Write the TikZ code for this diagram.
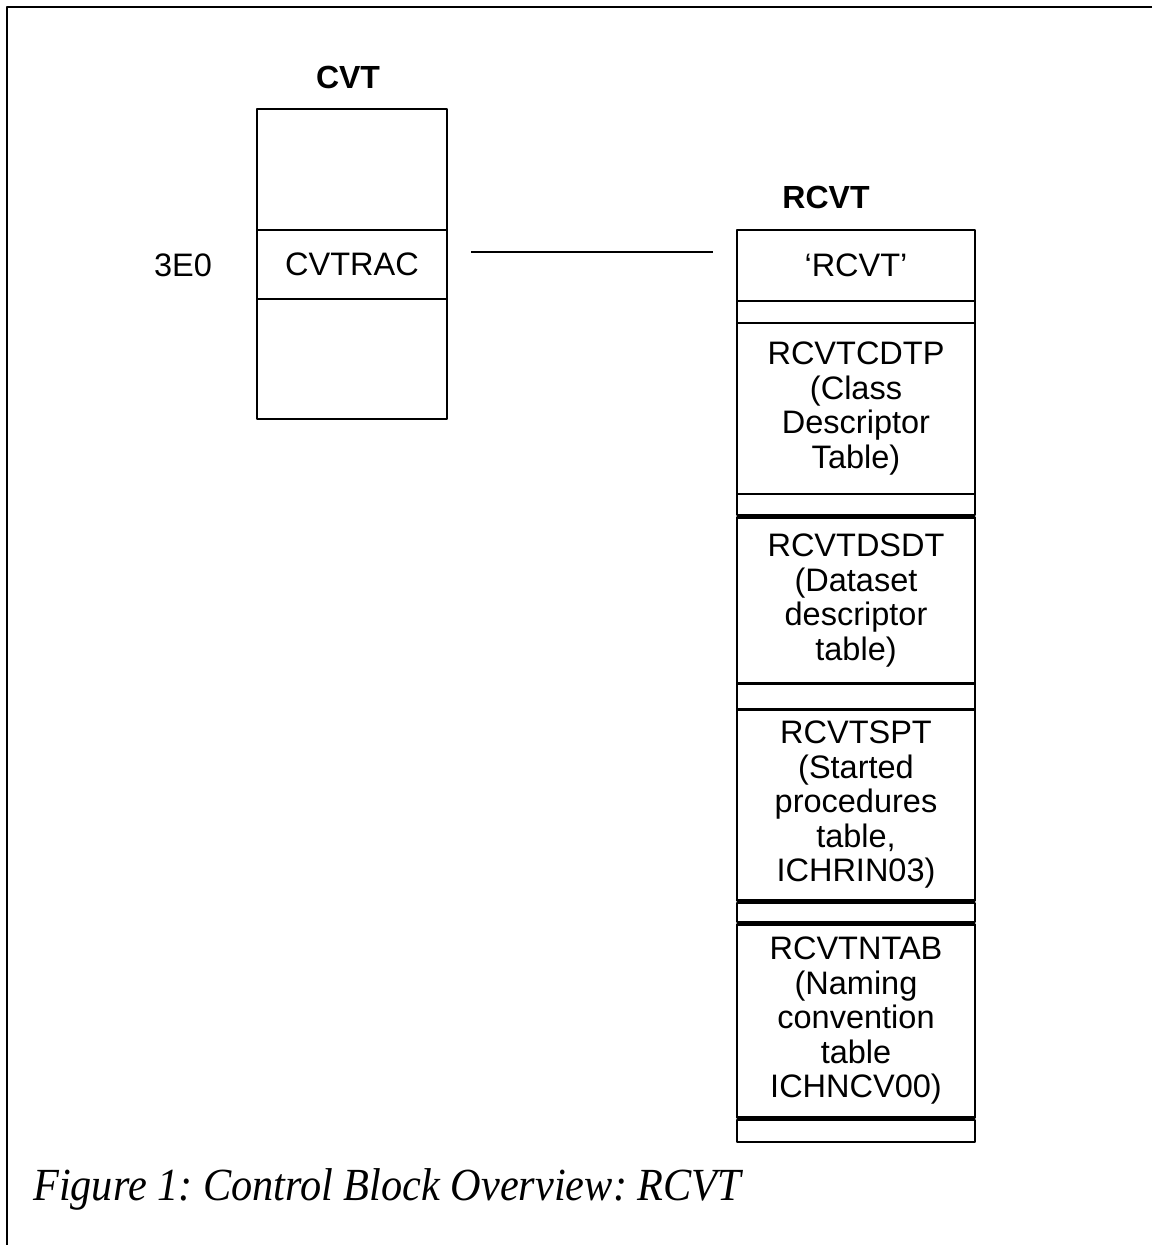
\documentclass[tikz,border=0pt]{standalone}
\usepackage{fontspec}
\setmainfont{Liberation Serif}
\setsansfont{Liberation Sans}
\usetikzlibrary{positioning}
\frenchspacing
\newcommand\isifont{\sffamily\fontsize{32.5}{34.5}\selectfont}
\newcommand\judulfont{\sffamily\bfseries\fontsize{32}{34.5}\selectfont}
\newcommand\captfont{\rmfamily\itshape\fontsize{46}{50}\selectfont}
\begin{document}
\begin{tikzpicture}[x=1pt, y=-1pt, line join=round]
    % Gaya sel blok kontrol
    \tikzset{
      sel/.style={draw, line width=2.4pt, outer sep=0pt, inner sep=0pt, align=center, font=\isifont},
      cvtsel/.style={sel, minimum width=190pt},
      rcvtsel/.style={sel, minimum width=238pt},
      judul/.style={font=\judulfont}
    }
    \useasboundingbox (0,0) rectangle (1152,1245);

    % Bingkai luar (atas dan kiri saja)
    \draw[line width=2.6pt] (1152,7) -- (7,7) -- (7,1245);

    % Blok CVT
    \node[judul] (cvtjudul) at (348,77) {CVT};
    \node[cvtsel, minimum height=121pt, anchor=north west] (cvtatas) at (257,109) {};
    \node[cvtsel, minimum height=69pt, below=0pt of cvtatas] (cvtrac) {CVTRAC};
    \node[cvtsel, minimum height=120pt, below=0pt of cvtrac] (cvtbawah) {};
    \node[font=\isifont] (offset) at (183,265) {3E0};

    % Garis penunjuk CVTRAC -> RCVT
    \coordinate (garisA) at (471,252);
    \coordinate (garisB) at (713,252);
    \draw[line width=2.4pt] (garisA) -- (garisB);

    % Blok RCVT
    \node[judul] (rcvtjudul) at (826,197) {RCVT};
    \node[rcvtsel, minimum height=71pt, anchor=north west] (rcvtid) at (737,230) {`RCVT'};
    \node[rcvtsel, minimum height=22pt, below=0pt of rcvtid] (kosong1) {};
    \node[rcvtsel, minimum height=171pt, below=0pt of kosong1] (cdtp)
      {RCVTCDTP\\(Class\\Descriptor\\Table)};
    \node[rcvtsel, minimum height=21pt, below=0pt of cdtp] (kosong2) {};
    \node[rcvtsel, minimum height=166pt, below=2.5pt of kosong2] (dsdt)
      {RCVTDSDT\\(Dataset\\descriptor\\table)};
    \node[rcvtsel, minimum height=26pt, below=0pt of dsdt] (kosong3) {};
    \node[rcvtsel, minimum height=191pt, below=0pt of kosong3] (spt)
      {RCVTSPT\\(Started\\procedures\\table,\\ICHRIN03)};
    \node[rcvtsel, minimum height=19pt, below=2.5pt of spt] (kosong4) {};
    \node[rcvtsel, minimum height=193pt, below=2.5pt of kosong4] (ntab)
      {RCVTNTAB\\(Naming\\convention\\table\\ICHNCV00)};
    \node[rcvtsel, minimum height=22pt, below=2.5pt of ntab] (kosong5) {};

    % Keterangan gambar
    \node[font=\captfont, anchor=base west, inner sep=0pt, xscale=0.92] (keterangan) at (33,1200)
      {Figure 1: Control Block Overview: RCVT};
\end{tikzpicture}
\end{document}
